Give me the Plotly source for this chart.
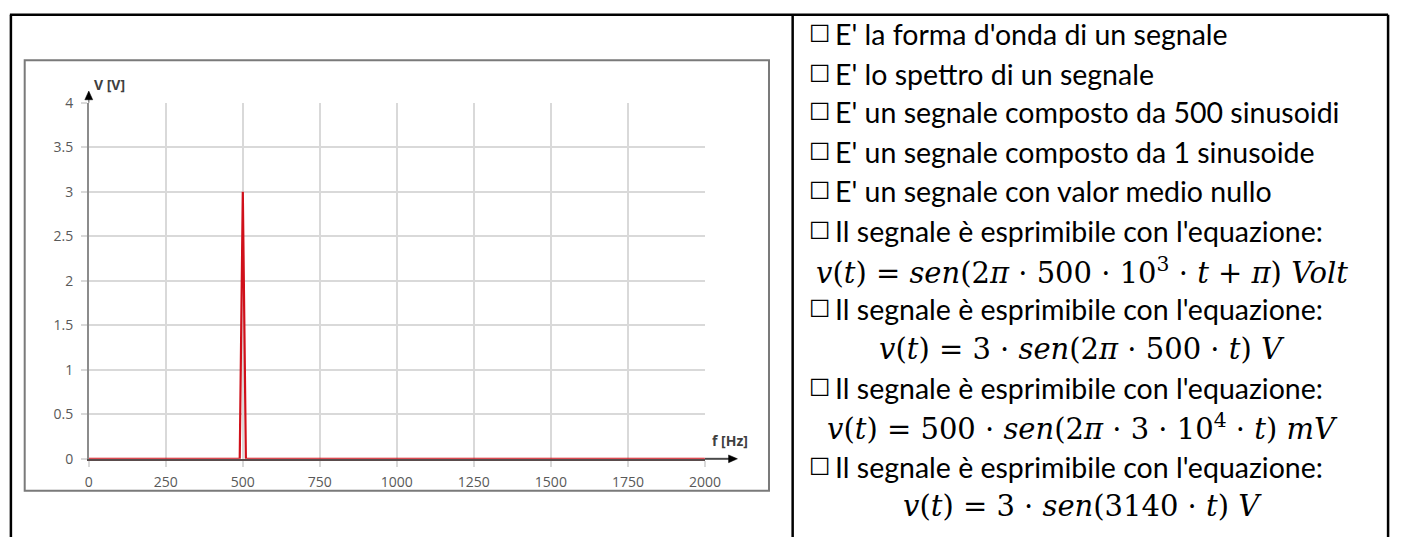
import plotly.graph_objects as go

# ---------------- data ----------------
freq_hz = [0, 490, 500, 510, 2000]
volt_v = [0, 0, 3, 0, 0]
x_ticks = [0, 250, 500, 750, 1000, 1250, 1500, 1750, 2000]
y_ticks = [0, 0.5, 1, 1.5, 2, 2.5, 3, 3.5, 4]
y_tick_text = ["0", "0.5", "1", "1.5", "2", "2.5", "3", "3.5", "4"]
x_title = "f [Hz]"
y_title = "V [V]"

options = [
    "E' la forma d'onda di un segnale",
    "E' lo spettro di un segnale",
    "E' un segnale composto da 500 sinusoidi",
    "E' un segnale composto da 1 sinusoide",
    "E' un segnale con valor medio nullo",
]
eq_prompt = "Il segnale è esprimibile con l'equazione:"
equations = [
    "<i>v</i>(<i>t</i>) = <i>sen</i>(2<i>π</i> · 500 · 10<sup>3</sup> · <i>t</i> + <i>π</i>) <i>Volt</i>",
    "<i>v</i>(<i>t</i>) = 3 · <i>sen</i>(2<i>π</i> · 500 · <i>t</i>) <i>V</i>",
    "<i>v</i>(<i>t</i>) = 500 · <i>sen</i>(2<i>π</i> · 3 · 10<sup>4</sup> · <i>t</i>) <i>mV</i>",
    "<i>v</i>(<i>t</i>) = 3 · <i>sen</i>(3140 · <i>t</i>) <i>V</i>",
]

# ---------------- page geometry (pixels) ----------------
W, H = 1410, 546
def px(x):
    return x / W
def py(y):
    return 1 - y / H

PLOT_L, PLOT_R, PLOT_T, PLOT_B = 86, 711, 96, 465

fig = go.Figure()
fig.add_trace(go.Scatter(x=freq_hz, y=volt_v, mode="lines",
                         line=dict(color="#d0101a", width=2.2),
                         hoverinfo="skip", showlegend=False))

tick_font = dict(family="Open Sans, DejaVu Sans, sans-serif", size=14, color="#595959")
fig.update_layout(
    width=W, height=H,
    margin=dict(l=0, r=0, t=0, b=0),
    paper_bgcolor="white", plot_bgcolor="white",
    showlegend=False,
    xaxis=dict(domain=[px(PLOT_L), px(PLOT_R)], range=[0, 2000],
               tickvals=x_ticks, ticktext=[str(v) for v in x_ticks],
               showgrid=True, gridcolor="#d9d9d9", gridwidth=1.5,
               zeroline=False, showline=True, linecolor="#5a4c4c", linewidth=2,
               ticks="outside", ticklen=6, tickcolor="#d9d9d9", tickwidth=1.5,
               ticklabelstandoff=3, tickfont=tick_font, fixedrange=True),
    yaxis=dict(domain=[py(PLOT_B), py(PLOT_T)], range=[0, 4],
               tickvals=y_ticks, ticktext=y_tick_text,
               showgrid=True, gridcolor="#d9d9d9", gridwidth=1.5,
               zeroline=False, showline=True, linecolor="#8c8c8c", linewidth=1.5,
               ticks="outside", ticklen=6, tickcolor="#d9d9d9", tickwidth=1.5,
               ticklabelstandoff=5, tickfont=tick_font, fixedrange=True),
)

shapes = []
# table borders
for (x0, y0, x1, y1) in [(6, 5, 1404, 5), (7, 5, 7, 546), (800, 5, 800, 546), (1404, 5, 1404, 546)]:
    shapes.append(dict(type="line", xref="paper", yref="paper",
                       x0=px(x0), y0=py(y0), x1=px(x1), y1=py(y1),
                       line=dict(color="black", width=2.5)))
# chart picture frame
shapes.append(dict(type="rect", xref="paper", yref="paper",
                   x0=px(21), y0=py(498), x1=px(776), y1=py(52),
                   line=dict(color="#7a7a7a", width=2)))
# x-axis arrow extension and head
shapes.append(dict(type="line", xref="paper", yref="paper",
                   x0=px(PLOT_R), y0=py(PLOT_B), x1=px(737), y1=py(PLOT_B),
                   line=dict(color="#4a4a4a", width=2)))
shapes.append(dict(type="path", xref="paper", yref="paper",
                   path=f"M {px(735)} {py(PLOT_B-4)} L {px(744)} {py(PLOT_B)} L {px(735)} {py(PLOT_B+4)} Z",
                   fillcolor="black", line=dict(color="black", width=0.5)))
# y-axis arrow extension and head
shapes.append(dict(type="line", xref="paper", yref="paper",
                   x0=px(PLOT_L), y0=py(PLOT_T), x1=px(PLOT_L), y1=py(90),
                   line=dict(color="#8c8c8c", width=1.5)))
shapes.append(dict(type="path", xref="paper", yref="paper",
                   path=f"M {px(PLOT_L-4)} {py(93)} L {px(PLOT_L)} {py(84)} L {px(PLOT_L+4)} {py(93)} Z",
                   fillcolor="black", line=dict(color="black", width=0.5)))
fig.update_layout(shapes=shapes)

ann = []
title_font = dict(family="Open Sans, DejaVu Sans, sans-serif", size=14, color="#404040")
ann.append(dict(text=f"<b>{y_title}</b>", xref="paper", yref="paper", x=px(89), y=py(77),
                xanchor="left", yanchor="middle", showarrow=False, font=title_font))
ann.append(dict(text=f"<b>{x_title}</b>", xref="paper", yref="paper", x=px(716), y=py(446),
                xanchor="left", yanchor="middle", showarrow=False, font=title_font))

text_font = dict(family="Lato, Carlito, sans-serif", size=28.5, color="black")
box_font = dict(family="DejaVu Sans", size=24, color="black")
eq_font = dict(family="DejaVu Serif, Liberation Serif, serif", size=29, color="black")

lines = [("opt", o) for o in options]
for e in equations:
    lines.append(("opt", eq_prompt))
    lines.append(("eq", e))

y_positions = [25, 66, 106, 147, 188, 229, 270, 310, 351, 392, 432, 473, 514]
for (kind, txt), yy in zip(lines, y_positions):
    if kind == "opt":
        ann.append(dict(text="☐", xref="paper", yref="paper", x=px(815), y=py(yy),
                        xanchor="left", yanchor="middle", showarrow=False, font=box_font))
        ann.append(dict(text=txt, xref="paper", yref="paper", x=px(841), y=py(yy),
                        xanchor="left", yanchor="middle", showarrow=False, font=text_font))
    else:
        ann.append(dict(text=txt, xref="paper", yref="paper", x=px(1094), y=py(yy),
                        xanchor="center", yanchor="middle", showarrow=False, font=eq_font))
fig.update_layout(annotations=ann)

fig.write_html("out.html", config={"displayModeBar": False})
